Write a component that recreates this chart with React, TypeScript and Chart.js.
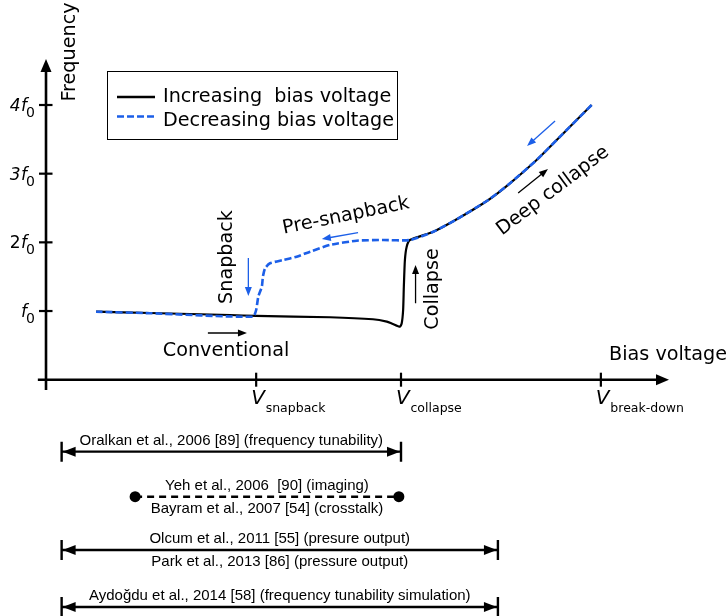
import { useEffect, useRef } from "react";
import { Chart, registerables } from "chart.js";

Chart.register(...registerables);

const BLUE = "#1c5fe8";
const INK = "#000000";
const SANS = '"DejaVu Sans", Verdana, sans-serif';
const REF_FONT = '"Liberation Sans", Arial, sans-serif';

// Bias voltage in arbitrary units (V_collapse = 100); frequency in units of f0.
const voltageTicks = [59.2, 100, 156.3];
const voltageTickSubscripts = ["snapback", "collapse", "break-down"];
const frequencyTicks = [1, 2, 3, 4];
const frequencyTickPrefixes = ["", "2", "3", "4"];

// Increasing bias sweep: conventional -> collapse -> deep collapse
const increasingV = [14.1, 29.3, 51.8, 59.2, 80.0, 92.1, 96.0, 97.7, 99.7, 100.2, 100.6, 100.8, 101.1, 101.6, 102.5, 109.1, 115.7, 124.6, 130.7, 138.2, 144.8, 153.7];
const increasingF = [0.99, 0.971, 0.942, 0.928, 0.909, 0.88, 0.845, 0.811, 0.772, 0.821, 1.015, 1.354, 1.743, 1.937, 2.034, 2.155, 2.336, 2.617, 2.86, 3.199, 3.539, 4.0];

// Decreasing bias sweep: deep collapse -> pre-snapback -> snapback
const decreasingV = [153.7, 144.8, 138.2, 130.7, 124.6, 115.7, 109.1, 102.5, 94.9, 87.5, 80.0, 74.4, 70.6, 66.8, 63.1, 61.7, 61.1, 60.8, 59.8, 59.2, 58.3, 29.3, 14.1];
const decreasingF = [4.0, 3.539, 3.199, 2.86, 2.617, 2.336, 2.155, 2.034, 2.034, 2.024, 1.962, 1.864, 1.791, 1.743, 1.695, 1.622, 1.5, 1.354, 1.209, 1.015, 0.917, 0.968, 0.99];

// Operating ranges reported in the literature
const rangeLabelsAbove = [
  "Oralkan et al., 2006 [89] (frequency tunability)",
  "Yeh et al., 2006  [90] (imaging)",
  "Olcum et al., 2011 [55] (presure output)",
  "Aydoğdu et al., 2014 [58] (frequency tunability simulation)",
];
const rangeLabelsBelow = ["", "Bayram et al., 2007 [54] (crosstalk)", "Park et al., 2013 [86] (pressure output)", ""];
const rangeStart = [4.4, 25.1, 4.4, 4.4];
const rangeEnd = [100, 99.4, 127.3, 127.3];
const rangeLevel = [-1.048, -1.704, -2.48, -3.31];
const rangeDashed = [false, true, false, false];

const X_MIN = -12.96;
const X_MAX = 191.55;
const Y_MIN = -3.441;
const Y_MAX = 5.529;

function zip(xs: number[], ys: number[]) {
  return xs.map((x, i) => ({ x, y: ys[i] }));
}

function head(ctx: CanvasRenderingContext2D, tx: number, ty: number, angle: number, len: number, half: number, color: string) {
  ctx.save();
  ctx.translate(tx, ty);
  ctx.rotate(angle);
  ctx.beginPath();
  ctx.moveTo(0, 0);
  ctx.lineTo(-len, -half);
  ctx.lineTo(-len, half);
  ctx.closePath();
  ctx.fillStyle = color;
  ctx.fill();
  ctx.restore();
}

function arrow(ctx: CanvasRenderingContext2D, x1: number, y1: number, x2: number, y2: number, color: string, lw: number, len: number, half: number) {
  const a = Math.atan2(y2 - y1, x2 - x1);
  ctx.save();
  ctx.strokeStyle = color;
  ctx.lineWidth = lw;
  ctx.beginPath();
  ctx.moveTo(x1, y1);
  ctx.lineTo(x2 - Math.cos(a) * len * 0.8, y2 - Math.sin(a) * len * 0.8);
  ctx.stroke();
  ctx.restore();
  head(ctx, x2, y2, a, len, half, color);
}

function label(
  ctx: CanvasRenderingContext2D,
  text: string,
  x: number,
  y: number,
  font: string,
  opts: { angle?: number; color?: string; align?: CanvasTextAlign; baseline?: CanvasTextBaseline } = {}
) {
  ctx.save();
  ctx.translate(x, y);
  if (opts.angle) ctx.rotate(opts.angle);
  ctx.font = font;
  ctx.fillStyle = opts.color || INK;
  ctx.textAlign = opts.align || "center";
  ctx.textBaseline = opts.baseline || "middle";
  ctx.fillText(text, 0, 0);
  ctx.restore();
}

const MAIN_FONT = `19.2px ${SANS}`;

const schematicPlugin = {
  id: "schematic",
  beforeDatasetsDraw(chart: any) {
    const ctx: CanvasRenderingContext2D = chart.ctx;
    const X = (v: number) => chart.scales.x.getPixelForValue(v);
    const Y = (f: number) => chart.scales.y.getPixelForValue(f);
    const x0 = X(0);
    const y0 = Y(0);

    ctx.save();
    ctx.strokeStyle = INK;
    ctx.lineWidth = 2.6;
    // horizontal axis
    ctx.beginPath();
    ctx.moveTo(X(-2.3), y0);
    ctx.lineTo(X(175.5) - 10, y0);
    ctx.stroke();
    head(ctx, X(175.5), y0, 0, 13, 5.5, INK);
    // vertical axis
    ctx.beginPath();
    ctx.moveTo(x0, Y(-0.15));
    ctx.lineTo(x0, Y(4.67) + 10);
    ctx.stroke();
    head(ctx, x0, Y(4.67), -Math.PI / 2, 13, 5.5, INK);

    // ticks
    ctx.lineWidth = 2.2;
    frequencyTicks.forEach((f) => {
      ctx.beginPath();
      ctx.moveTo(x0 - 7, Y(f));
      ctx.lineTo(x0 + 6.5, Y(f));
      ctx.stroke();
    });
    voltageTicks.forEach((v) => {
      ctx.beginPath();
      ctx.moveTo(X(v), y0 - 7);
      ctx.lineTo(X(v), y0 + 7);
      ctx.stroke();
    });
    ctx.restore();

    // frequency tick labels: prefix, italic f, subscript 0
    ctx.save();
    ctx.fillStyle = INK;
    ctx.textBaseline = "alphabetic";
    frequencyTicks.forEach((f, i) => {
      const ty = Y(f);
      const right = 35;
      ctx.font = `14px ${SANS}`;
      const w0 = ctx.measureText("0").width;
      ctx.textAlign = "left";
      ctx.fillText("0", right - w0, ty + 12);
      ctx.textAlign = "right";
      ctx.font = `italic 17px ${SANS}`;
      const fx = right - w0 + 1;
      ctx.fillText("f", fx, ty + 6);
      const fw = ctx.measureText("f").width;
      const prefix = frequencyTickPrefixes[i];
      if (prefix) {
        ctx.font = prefix === "2" ? `17px ${SANS}` : `italic 17px ${SANS}`;
        ctx.fillText(prefix, fx - fw - 0.5, ty + 6);
      }
    });

    // voltage tick labels: italic V with subscript
    voltageTicks.forEach((v, i) => {
      const tx = X(v);
      ctx.textAlign = "left";
      ctx.font = `italic 20px ${SANS}`;
      ctx.fillText("V", tx - 5, y0 + 24);
      ctx.font = `12.5px ${SANS}`;
      ctx.fillText(voltageTickSubscripts[i], tx + 9.5, y0 + 32);
    });
    ctx.restore();

    label(ctx, "Frequency", X(6.76), Y(4.772), MAIN_FONT, { angle: -Math.PI / 2 });
    label(ctx, "Bias voltage", X(158.6), Y(0.36), MAIN_FONT, { align: "left" });
  },
  afterDatasetsDraw(chart: any) {
    const ctx: CanvasRenderingContext2D = chart.ctx;
    const X = (v: number) => chart.scales.x.getPixelForValue(v);
    const Y = (f: number) => chart.scales.y.getPixelForValue(f);

    // annotations on the sweep
    arrow(ctx, X(45.6), Y(0.68), X(56.6), Y(0.68), INK, 1.3, 9, 3.5);
    label(ctx, "Conventional", X(50.7), Y(0.418), MAIN_FONT);

    arrow(ctx, X(57.0), Y(1.772), X(57.0), Y(1.219), BLUE, 1.3, 9, 3.5);
    label(ctx, "Snapback", X(51.0), Y(1.787), MAIN_FONT, { angle: -Math.PI / 2 });

    arrow(ctx, X(87.9), Y(2.141), X(77.7), Y(2.049), BLUE, 1.3, 9, 3.5);
    label(ctx, "Pre-snapback", X(84.5), Y(2.384), MAIN_FONT, { angle: (-11.5 * Math.PI) / 180 });

    arrow(ctx, X(104.1), Y(1.113), X(104.1), Y(1.67), INK, 1.3, 9, 3.5);
    label(ctx, "Collapse", X(109.0), Y(1.321), MAIN_FONT, { angle: -Math.PI / 2 });

    arrow(ctx, X(133.0), Y(2.719), X(141.4), Y(3.068), INK, 1.3, 9, 3.5);
    arrow(ctx, X(143.4), Y(3.767), X(135.5), Y(3.403), BLUE, 1.3, 9, 3.5);
    label(ctx, "Deep collapse", X(142.8), Y(2.748), MAIN_FONT, { angle: (-37 * Math.PI) / 180 });

    // literature ranges: end bars, arrowheads and labels
    rangeLevel.forEach((lvl, i) => {
      const xa = X(rangeStart[i]);
      const xb = X(rangeEnd[i]);
      const yy = Y(lvl);
      if (!rangeDashed[i]) {
        ctx.save();
        ctx.strokeStyle = INK;
        ctx.lineWidth = 2.4;
        ctx.beginPath();
        ctx.moveTo(xa, yy - 10);
        ctx.lineTo(xa, yy + 10);
        ctx.moveTo(xb, yy - 10);
        ctx.lineTo(xb, yy + 10);
        ctx.stroke();
        ctx.restore();
        head(ctx, xa + 1, yy, Math.PI, 13, 5, INK);
        head(ctx, xb - 1, yy, 0, 13, 5, INK);
      }
      const xm = (xa + xb) / 2;
      label(ctx, rangeLabelsAbove[i], xm, yy - 11, `15px ${REF_FONT}`);
      if (rangeLabelsBelow[i]) label(ctx, rangeLabelsBelow[i], xm, yy + 12, `15px ${REF_FONT}`);
    });
  },
  afterDraw(chart: any) {
    const ctx: CanvasRenderingContext2D = chart.ctx;
    // legend box
    ctx.save();
    ctx.fillStyle = "#ffffff";
    ctx.fillRect(107.5, 71.5, 290, 68);
    ctx.strokeStyle = INK;
    ctx.lineWidth = 1;
    ctx.strokeRect(107.5, 71.5, 290, 68);

    ctx.lineWidth = 2.4;
    ctx.strokeStyle = INK;
    ctx.beginPath();
    ctx.moveTo(117, 97);
    ctx.lineTo(155, 97);
    ctx.stroke();

    ctx.strokeStyle = BLUE;
    ctx.setLineDash([7, 3]);
    ctx.beginPath();
    ctx.moveTo(117, 116.5);
    ctx.lineTo(155, 116.5);
    ctx.stroke();
    ctx.setLineDash([]);

    ctx.fillStyle = INK;
    ctx.font = MAIN_FONT;
    ctx.textAlign = "left";
    ctx.textBaseline = "alphabetic";
    ctx.fillText("Increasing  bias voltage", 163, 102);
    ctx.fillText("Decreasing bias voltage", 163, 126);
    ctx.restore();
  },
};

export default function App() {
  const canvasRef = useRef<HTMLCanvasElement | null>(null);

  useEffect(() => {
    const canvas = canvasRef.current;
    if (!canvas) return;

    const rangeSets = rangeLevel.map((lvl, i) => ({
      label: rangeLabelsAbove[i],
      data: [
        { x: rangeStart[i], y: lvl },
        { x: rangeEnd[i], y: lvl },
      ],
      showLine: true,
      borderColor: INK,
      backgroundColor: INK,
      borderWidth: 2.4,
      borderDash: rangeDashed[i] ? [7, 5] : [],
      pointRadius: rangeDashed[i] ? 5.5 : 0,
      pointBorderWidth: 0,
      tension: 0,
      order: 2,
    }));

    const chart = new Chart(canvas, {
      type: "scatter",
      data: {
        datasets: [
          {
            label: "Decreasing bias voltage",
            data: zip(decreasingV, decreasingF),
            showLine: true,
            borderColor: BLUE,
            borderWidth: 2.6,
            borderDash: [7, 3],
            pointRadius: 0,
            tension: 0.2,
            order: 0,
          },
          {
            label: "Increasing bias voltage",
            data: zip(increasingV, increasingF),
            showLine: true,
            borderColor: INK,
            borderWidth: 2.2,
            pointRadius: 0,
            tension: 0.2,
            order: 1,
          },
          ...rangeSets,
        ],
      },
      options: {
        responsive: false,
        animation: false,
        devicePixelRatio: 1,
        layout: { padding: 0, autoPadding: false },
        plugins: { legend: { display: false }, tooltip: { enabled: false }, title: { display: false } },
        scales: {
          x: { type: "linear", min: X_MIN, max: X_MAX, display: false },
          y: { type: "linear", min: Y_MIN, max: Y_MAX, display: false },
        },
      },
      plugins: [schematicPlugin],
    });

    return () => chart.destroy();
  }, []);

  return (
    <div style={{ position: "absolute", left: 0, top: 0, width: 726, height: 616, background: "#ffffff" }}>
      <canvas ref={canvasRef} width={726} height={616} style={{ display: "block" }} />
    </div>
  );
}
